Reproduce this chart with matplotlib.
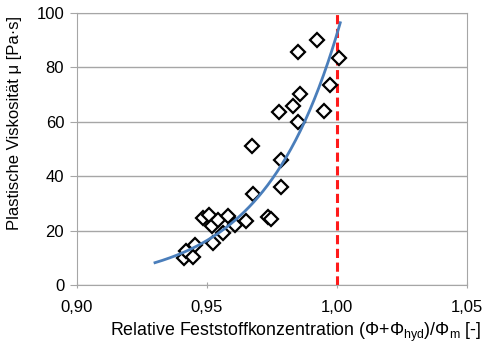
import matplotlib
matplotlib.use("Agg")
import matplotlib.pyplot as plt
import numpy as np

plt.rcParams['font.family'] = ['Liberation Sans', 'DejaVu Sans']

# measured points
phi_rel = [0.9413, 0.9420, 0.9446, 0.9455, 0.9487, 0.9509, 0.9519, 0.9523,
           0.9545, 0.9564, 0.9583, 0.9609, 0.9651, 0.9673, 0.9679, 0.9737,
           0.9746, 0.9778, 0.9785, 0.9785, 0.9833, 0.9859, 0.9849, 0.9852,
           0.9925, 0.9949, 0.9972, 1.0010]
viscosity = [9.8, 12.6, 10.4, 14.7, 24.5, 25.7, 21.7, 15.3,
             23.9, 19.0, 25.3, 22.0, 23.6, 51.1, 33.4, 25.1,
             24.1, 63.6, 45.9, 36.1, 65.7, 70.3, 59.9, 85.6,
             90.1, 63.9, 73.4, 83.2]

# exponential trendline y = y0 * exp(k * (x - x0))
trend_x0 = 0.9301
trend_y0 = 8.2
trend_k = 34.6
trend_end = 1.0013

x_ticks = [0.90, 0.95, 1.00, 1.05]
x_tick_labels = ['0,90', '0,95', '1,00', '1,05']
y_ticks = [0, 20, 40, 60, 80, 100]
limit_x = 1.0

xs = np.linspace(trend_x0, trend_end, 200)
ys = trend_y0 * np.exp(trend_k * (xs - trend_x0))

fig = plt.figure(figsize=(4.9, 3.44), dpi=100)
ax = fig.add_axes([0.1565, 0.1715, 0.7965, 0.7915])

ax.set_xlim(0.90, 1.05)
ax.set_ylim(0, 100)
ax.set_yticks(y_ticks)
ax.set_xticks(x_ticks)
ax.set_xticklabels(x_tick_labels)
ax.yaxis.grid(True, color='#a6a6a6', lw=1)
ax.set_axisbelow(True)
for s in ax.spines.values():
    s.set_color('#a6a6a6')
ax.tick_params(axis='x', direction='inout', length=5, color='#a6a6a6',
               labelsize=12, pad=8)
ax.tick_params(axis='y', direction='out', length=5, color='#a6a6a6',
               labelsize=12, pad=4)

ax.plot(phi_rel, viscosity, linestyle='none', marker='D', markersize=7.5,
        markerfacecolor='white', markeredgecolor='black', markeredgewidth=1.6,
        zorder=3)
ax.plot(xs, ys, color='#4a7ebb', lw=2, zorder=4)
ax.axvline(limit_x, color='#ff1a1a', lw=2.2, dashes=(3, 1.5), zorder=2)

ax.set_xlabel('Relative Feststoffkonzentration (Φ+Φ$_\\mathregular{hyd}$)/Φ$_\\mathregular{m}$ [-]',
              fontsize=12.8)
ax.xaxis.set_label_coords(0.562, -0.133)
ax.set_ylabel('Plastische Viskosität μ [Pa·s]', fontsize=12)
ax.yaxis.set_label_coords(-0.141, 0.595)

fig.savefig('out.png', dpi=100)
